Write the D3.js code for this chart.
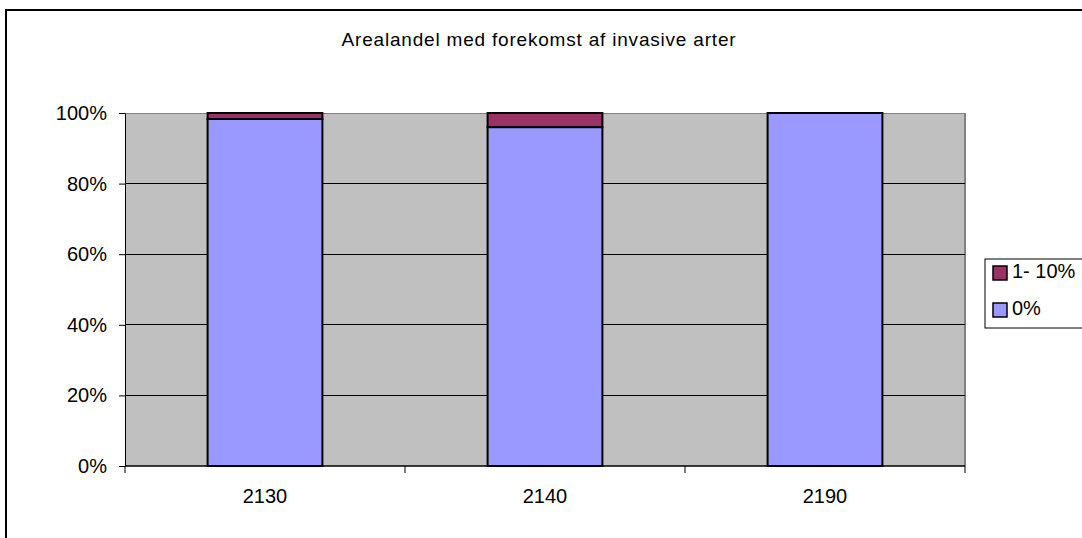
<!DOCTYPE html>
<html><head><meta charset="utf-8">
<script src="https://cdn.jsdelivr.net/npm/d3@7"></script>
<style>body{margin:0;background:#fff;overflow:hidden}svg{display:block;font-family:"Liberation Sans",Arial,sans-serif}</style>
</head><body>
<script>
const categories = ["2130", "2140", "2190"];
const seriesNames = ["0%", "1- 10%"];
const values0 = [98.3, 96.0, 100.0];
const values1 = [1.7, 4.0, 0.0];
const colors = ["#9999ff", "#993366"];
const yTicks = [0, 20, 40, 60, 80, 100];
const title = "Arealandel med forekomst af invasive arter";

const W = 1082, H = 538;
const FS = 20;
const svg = d3.select("body").append("svg").attr("width", W).attr("height", H);

// outer chart border
svg.append("rect").attr("x", 6).attr("y", 10).attr("width", W + 20).attr("height", H + 20)
  .attr("fill", "#fff").attr("stroke", "#000").attr("stroke-width", 2);

const plot = {l: 125, r: 965, t: 113, b: 466};
const x = d3.scaleBand().domain(categories).range([plot.l, plot.r]).paddingInner(0.59).paddingOuter(0.295);
const xb = d3.scaleBand().domain(categories).range([plot.l, plot.r]);
const y = d3.scaleLinear().domain([0, 100]).range([plot.b, plot.t]);

svg.append("rect").attr("x", plot.l).attr("y", plot.t).attr("width", plot.r - plot.l).attr("height", plot.b - plot.t)
  .attr("fill", "#c0c0c0");
svg.append("line").attr("x1", plot.r).attr("x2", plot.r).attr("y1", plot.t).attr("y2", plot.b)
  .attr("stroke", "#808080").attr("stroke-width", 2);

// gridlines
svg.append("g").selectAll("line").data(yTicks.filter(d => d > 0)).join("line")
  .attr("x1", plot.l).attr("x2", plot.r).attr("y1", d => y(d)).attr("y2", d => y(d))
  .attr("stroke", d => d === 100 ? "#808080" : "#000").attr("stroke-width", 1).attr("shape-rendering", "crispEdges");

// stacked bars
const stackData = categories.map((c, i) => ({cat: c, s0: values0[i], s1: values1[i]}));
const stack = d3.stack().keys(["s0", "s1"])(stackData);
svg.append("g").selectAll("g").data(stack).join("g").attr("fill", (d, i) => colors[i])
  .selectAll("rect").data(d => d.filter(p => p[1] - p[0] > 0)).join("rect")
  .attr("x", d => x(d.data.cat)).attr("width", x.bandwidth())
  .attr("y", d => y(d[1])).attr("height", d => y(d[0]) - y(d[1]))
  .attr("stroke", "#000").attr("stroke-width", 2);

// y axis
const yAxis = d3.axisLeft(y).tickValues(yTicks).tickFormat(d => d + "%").tickSize(6).tickPadding(12);
const gy = svg.append("g").attr("transform", `translate(${plot.l},0)`).call(yAxis);
gy.attr("font-size", FS).attr("font-family", "Liberation Sans, Arial, sans-serif");
gy.select(".domain").attr("stroke", "#000");
gy.selectAll("text").attr("fill", "#000");

// x axis
const gx = svg.append("g").attr("transform", `translate(0,${plot.b})`);
gx.append("line").attr("x1", plot.l).attr("x2", plot.r).attr("stroke", "#000").attr("stroke-width", 1.5);
const tickPos = categories.map(c => xb(c)).concat([plot.r]);
gx.selectAll(".tk").data(tickPos).join("line").attr("class", "tk")
  .attr("x1", d => d).attr("x2", d => d).attr("y1", 0).attr("y2", 7).attr("stroke", "#000");
gx.selectAll("text").data(categories).join("text")
  .attr("x", d => xb(d) + xb.bandwidth() / 2).attr("y", 37)
  .attr("text-anchor", "middle").attr("font-size", FS).text(d => d);

// title
svg.append("text").attr("x", 539).attr("y", 46).attr("text-anchor", "middle")
  .attr("font-size", 19).attr("letter-spacing", 0.8).text(title);

// legend
const lg = svg.append("g");
lg.append("rect").attr("x", 985).attr("y", 259).attr("width", 120).attr("height", 69)
  .attr("fill", "#fff").attr("stroke", "#000").attr("stroke-width", 1);
const legendItems = [{name: seriesNames[1], color: colors[1]}, {name: seriesNames[0], color: colors[0]}];
legendItems.forEach((d, i) => {
  const yy = 266 + i * 37;
  lg.append("rect").attr("x", 993).attr("y", yy).attr("width", 14).attr("height", 14)
    .attr("fill", d.color).attr("stroke", "#000").attr("stroke-width", 1.5);
  lg.append("text").attr("x", 1012).attr("y", yy + 12).attr("font-size", FS).text(d.name);
});
</script>
</body></html>
